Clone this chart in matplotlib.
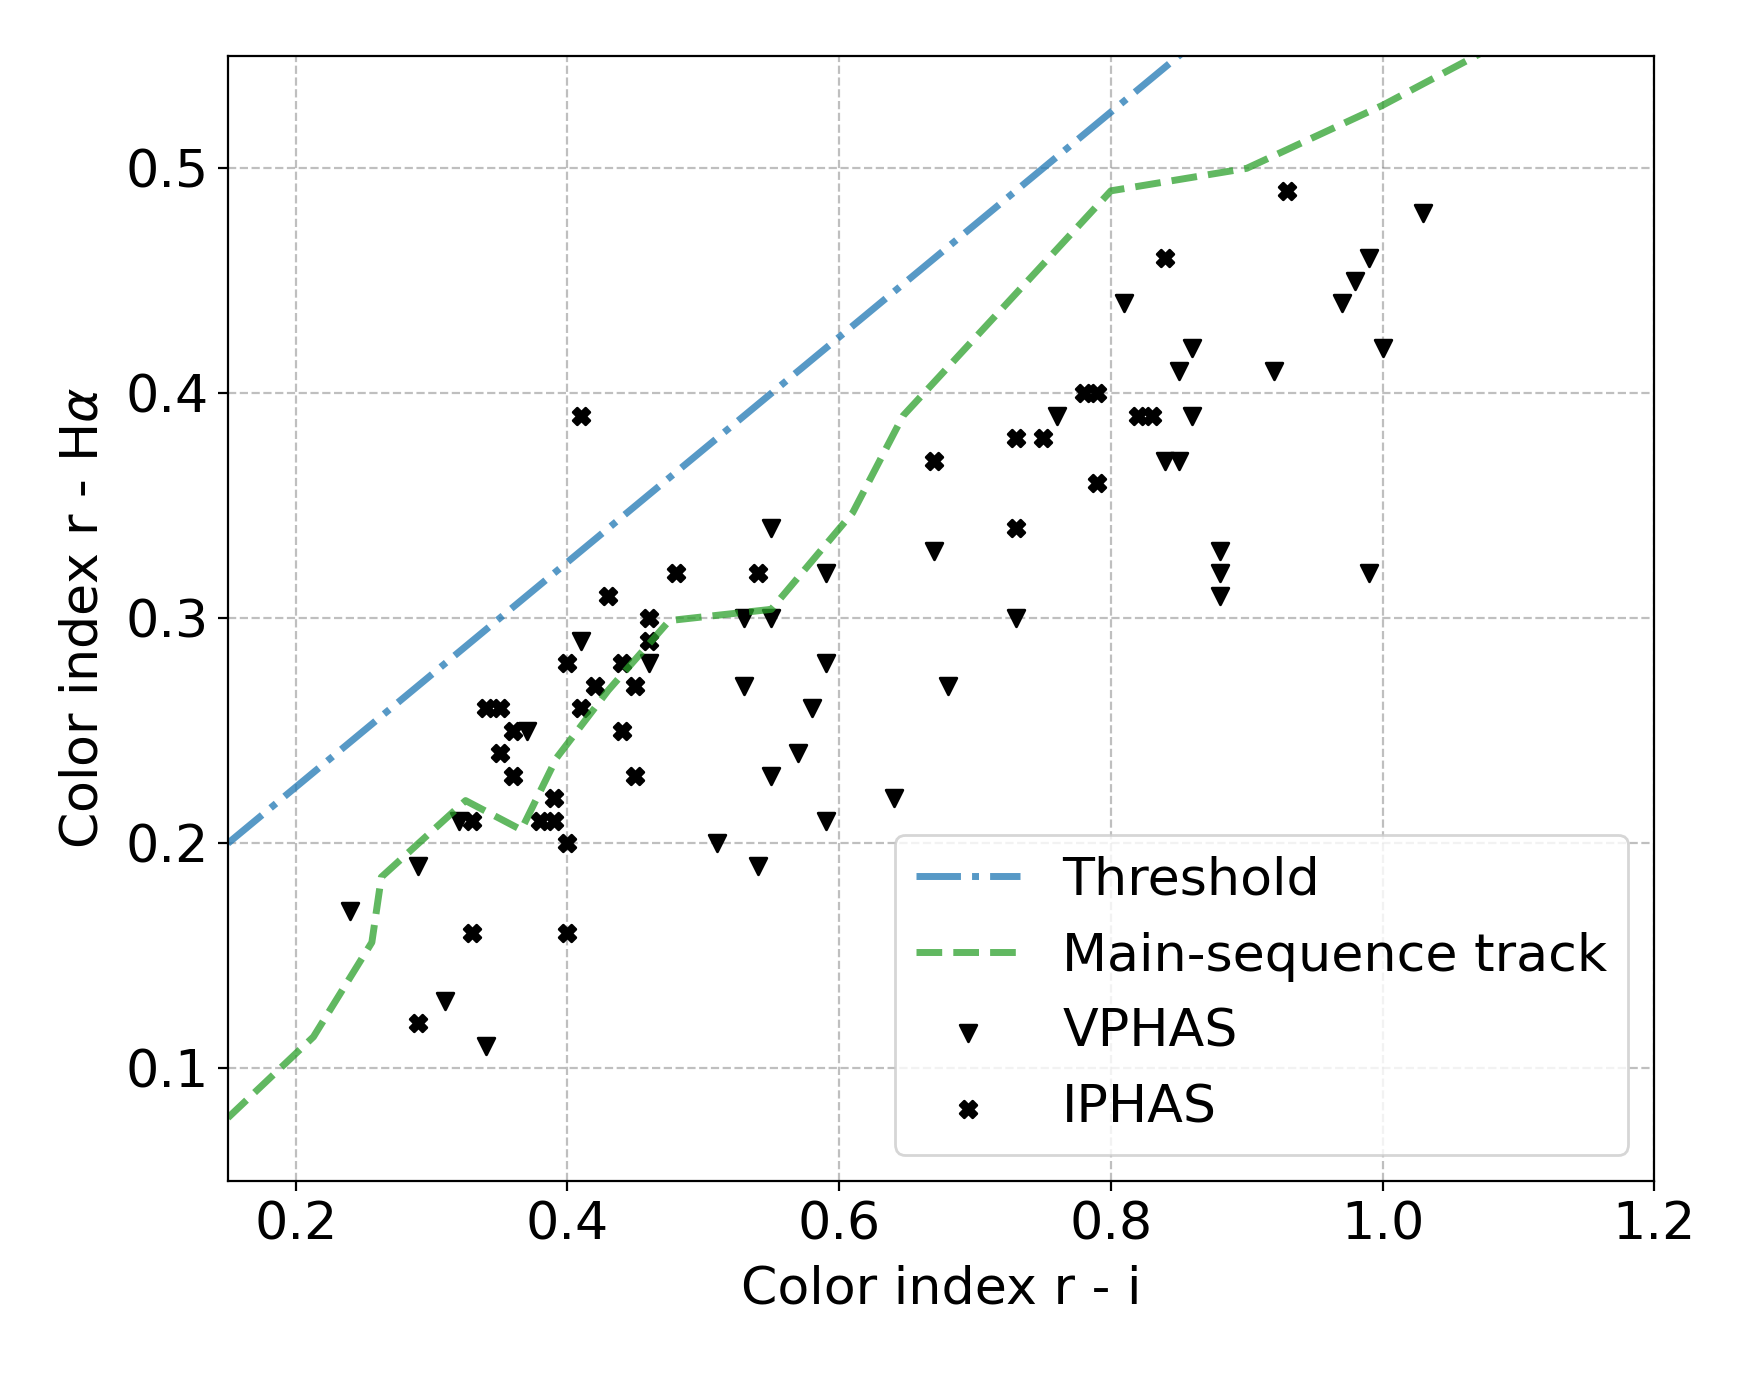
import matplotlib
matplotlib.use("Agg")
import matplotlib.pyplot as plt

# threshold line (two end points, clipped by the axes)
thr_x = [0.15, 1.20]
thr_y = [0.200, 0.725]

# main-sequence track vertices
ms_x = [0.150, 0.213, 0.256, 0.263, 0.325, 0.366, 0.392, 0.430, 0.475,
        0.550, 0.610, 0.647, 0.800, 0.900, 1.000, 1.100]
ms_y = [0.078, 0.114, 0.156, 0.185, 0.219, 0.206, 0.238, 0.268, 0.299,
        0.304, 0.347, 0.390, 0.490, 0.500, 0.528, 0.560]

# VPHAS sources (r-i, r-Ha)
vphas_ri = [0.24, 0.29, 0.31, 0.34, 0.32, 0.37, 0.41, 0.46, 0.51, 0.54,
            0.53, 0.53, 0.55, 0.55, 0.55, 0.57, 0.58, 0.59, 0.59, 0.59,
            0.64, 0.67, 0.68, 0.73, 0.76, 0.81, 0.85, 0.86, 0.86, 0.84,
            0.85, 0.88, 0.88, 0.88, 0.92, 0.97, 0.98, 0.99, 1.00, 0.99,
            1.03]
vphas_rha = [0.17, 0.19, 0.13, 0.11, 0.21, 0.25, 0.29, 0.28, 0.20, 0.19,
             0.27, 0.30, 0.30, 0.34, 0.23, 0.24, 0.26, 0.28, 0.32, 0.21,
             0.22, 0.33, 0.27, 0.30, 0.39, 0.44, 0.41, 0.42, 0.39, 0.37,
             0.37, 0.33, 0.32, 0.31, 0.41, 0.44, 0.45, 0.46, 0.42, 0.32,
             0.48]

# IPHAS sources (r-i, r-Ha)
iphas_ri = [0.29, 0.33, 0.40, 0.33, 0.38, 0.39, 0.39, 0.40, 0.34, 0.35,
            0.35, 0.36, 0.36, 0.40, 0.41, 0.42, 0.43, 0.44, 0.44, 0.45,
            0.45, 0.46, 0.46, 0.48, 0.54, 0.41, 0.67, 0.73, 0.75, 0.73,
            0.78, 0.79, 0.79, 0.82, 0.83, 0.84, 0.93]
iphas_rha = [0.12, 0.16, 0.16, 0.21, 0.21, 0.21, 0.22, 0.20, 0.26, 0.26,
             0.24, 0.25, 0.23, 0.28, 0.26, 0.27, 0.31, 0.28, 0.25, 0.27,
             0.23, 0.30, 0.29, 0.32, 0.32, 0.39, 0.37, 0.38, 0.38, 0.34,
             0.40, 0.40, 0.36, 0.39, 0.39, 0.46, 0.49]

plt.rcParams['font.size'] = 18.8

fig = plt.figure(figsize=(8.75, 6.875), dpi=200)
ax = fig.add_axes([0.1302, 0.1412, 0.8151, 0.8182])

ax.scatter(vphas_ri, vphas_rha, marker='v', color='black', s=36, label='VPHAS')
ax.scatter(iphas_ri, iphas_rha, marker='X', color='black', s=36, label='IPHAS')
ax.plot(thr_x, thr_y, '-.', color='tab:blue', alpha=0.75, lw=2.5, label='Threshold')
ax.plot(ms_x, ms_y, '--', color='tab:green', alpha=0.75, lw=2.5, label='Main-sequence track')

ax.set_xlim(0.15, 1.2)
ax.set_ylim(0.05, 0.55)
ax.set_xticks([0.2, 0.4, 0.6, 0.8, 1.0, 1.2])
ax.set_yticks([0.1, 0.2, 0.3, 0.4, 0.5])
ax.set_axisbelow(True)
ax.grid(True, linestyle='--', color='gray', alpha=0.5)

ax.set_xlabel('Color index r - i', labelpad=5)
ax.set_ylabel(r'Color index r - H$\alpha$', labelpad=6)

handles, labels = ax.get_legend_handles_labels()
order = [labels.index(k) for k in ['Threshold', 'Main-sequence track', 'VPHAS', 'IPHAS']]
ax.legend([handles[i] for i in order], [labels[i] for i in order], loc='lower right')

fig.savefig('out.png', dpi=200)
